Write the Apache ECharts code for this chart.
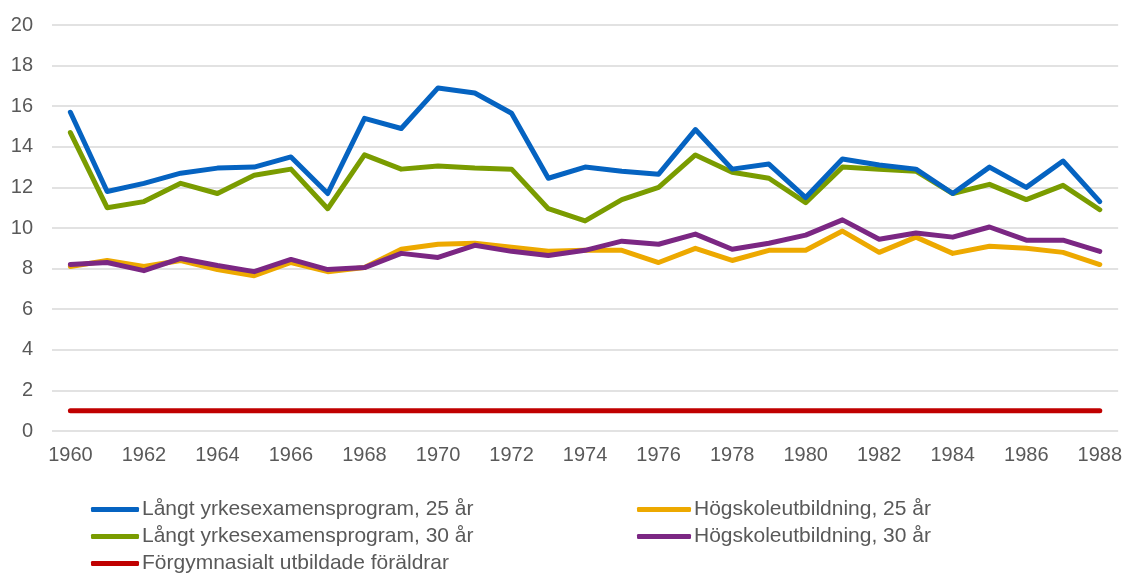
<!DOCTYPE html>
<html><head><meta charset="utf-8">
<script src="https://cdn.jsdelivr.net/npm/echarts@6/dist/echarts.min.js"></script>
<style>html,body{margin:0;padding:0;background:#fff}#c{width:1125px;height:576px}</style>
</head><body><div id="c"></div>
<script>
const years = ["1960","1961","1962","1963","1964","1965","1966","1967","1968","1969","1970","1971","1972","1973","1974","1975","1976","1977","1978","1979","1980","1981","1982","1983","1984","1985","1986","1987","1988"];
const yrke25 = [15.7,11.8,12.2,12.7,12.95,13.0,13.5,11.7,15.4,14.9,16.9,16.65,15.65,12.45,13.0,12.8,12.65,14.85,12.9,13.15,11.5,13.4,13.1,12.9,11.7,13.0,12.0,13.3,11.3];
const yrke30 = [14.7,11.0,11.3,12.2,11.7,12.6,12.9,10.95,13.6,12.9,13.05,12.95,12.9,10.95,10.35,11.4,12.0,13.6,12.75,12.45,11.25,13.0,12.9,12.8,11.7,12.15,11.4,12.1,10.9];
const hogsk25 = [8.1,8.4,8.1,8.4,7.95,7.65,8.3,7.85,8.05,8.95,9.2,9.25,9.05,8.85,8.9,8.9,8.3,9.0,8.4,8.9,8.9,9.85,8.8,9.55,8.75,9.1,9.0,8.8,8.2];
const hogsk30 = [8.2,8.3,7.9,8.5,8.15,7.85,8.45,7.95,8.05,8.75,8.55,9.15,8.85,8.65,8.9,9.35,9.2,9.7,8.95,9.25,9.65,10.4,9.45,9.75,9.55,10.05,9.4,9.4,8.85];
const forgym = years.map(() => 1);
const names = ["Långt yrkesexamensprogram, 25 år","Högskoleutbildning, 25 år","Långt yrkesexamensprogram, 30 år","Högskoleutbildning, 30 år","Förgymnasialt utbildade föräldrar"];
const colors = {"Långt yrkesexamensprogram, 25 år":"#0563C1","Högskoleutbildning, 25 år":"#EDA900","Långt yrkesexamensprogram, 30 år":"#7A9C00","Högskoleutbildning, 30 år":"#7B2783","Förgymnasialt utbildade föräldrar":"#C00000"};
const dataMap = {};
dataMap[names[0]] = yrke25; dataMap[names[1]] = hogsk25; dataMap[names[2]] = yrke30; dataMap[names[3]] = hogsk30; dataMap[names[4]] = forgym;
const order = [names[4], names[1], names[3], names[2], names[0]];
const chart = echarts.init(document.getElementById('c'), null, {renderer:'canvas'});
const font = "'Liberation Sans', Arial, sans-serif";
const legendCommon = {
  orient:'vertical', icon:'roundRect', itemHeight:5, itemGap:6, height:120, padding:0,
  textStyle:{fontFamily:font, fontSize:21, color:'#595959', lineHeight:21, padding:[0,0,0,-2]},
  selectedMode:false
};
chart.setOption({
  animation:false,
  color: order.map(n => colors[n]),
  grid:{left:52, right:5, top:25, bottom:145, containLabel:false},
  legend:[
    Object.assign({left:91, top:499, itemWidth:48, data:[names[0],names[2],names[4]]}, legendCommon),
    Object.assign({left:637, top:499, itemWidth:54, data:[names[1],names[3]]}, legendCommon)
  ],
  xAxis:{type:'category', data:years, boundaryGap:true,
    axisLine:{show:false}, axisTick:{show:false},
    axisLabel:{interval:1, fontFamily:font, fontSize:20, color:'#595959', margin:14}},
  yAxis:{type:'value', min:0, max:20, interval:2,
    axisLine:{show:false}, axisTick:{show:false},
    axisLabel:{fontFamily:font, fontSize:20, color:'#595959', margin:19},
    splitLine:{lineStyle:{color:'#D9D9D9', width:1.5}}},
  series: order.map(n => ({
    name:n, type:'line', data:dataMap[n], symbol:'none',
    lineStyle:{width:5, color:colors[n], cap:'round', join:'round'},
    itemStyle:{color:colors[n]}
  }))
});
</script></body></html>
